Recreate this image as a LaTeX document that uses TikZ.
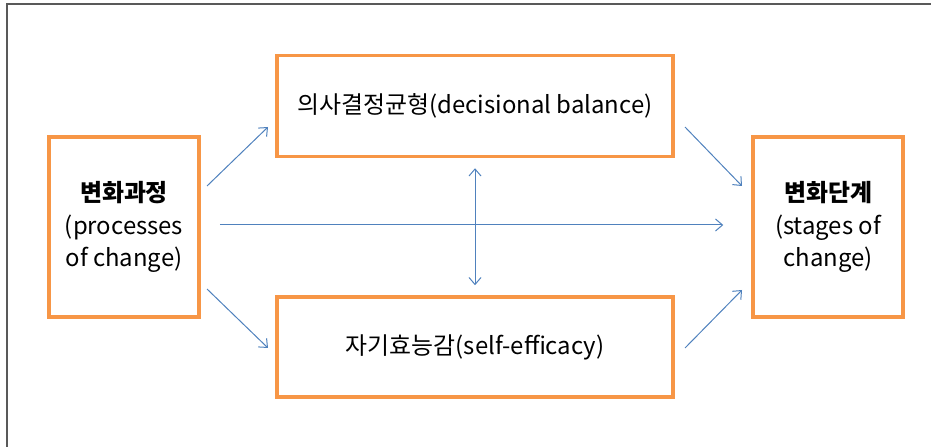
\documentclass[tikz,border=0pt]{standalone}
\usepackage{fontspec}
\setmainfont{Noto Sans CJK KR}
\usetikzlibrary{arrows.meta}
\definecolor{boxorange}{HTML}{F79646}
\definecolor{arrowblue}{HTML}{4F81BD}
\definecolor{framegray}{HTML}{595959}

\begin{document}
\begin{tikzpicture}[x=1bp,y=-1bp,
    box/.style={draw=boxorange, line width=3.5bp, align=center,
                font=\fontsize{24}{33}\selectfont},
    link/.style={draw=arrowblue, line width=1bp,
                 -{Straight Barb[length=7bp,width=12bp]}}]
    \useasboundingbox (0,0) rectangle (931,447);
    \draw[framegray, line width=2bp] (7,447) -- (7,4) -- (931,4);

    % boxes
    \node[box, minimum width=150bp, minimum height=180bp] (proc) at (124,227)
        {\textbf{변화과정}\\(processes\\of change)};
    \node[box, minimum width=396bp, minimum height=101bp] (bal) at (475,106)
        {의사결정균형(decisional balance)};
    \node[box, minimum width=396bp, minimum height=100bp] (eff) at (475,347)
        {자기효능감(self-efficacy)};
    \node[box, minimum width=150bp, minimum height=180bp] (stage) at (828,227)
        {\textbf{변화단계}\\(stages of\\change)};

    % arrow ends
    \coordinate (pb0) at (207,186);
    \coordinate (pb1) at (268,127);
    \coordinate (pe0) at (207,289);
    \coordinate (pe1) at (268,348);
    \coordinate (bs0) at (685,127);
    \coordinate (bs1) at (742,186);
    \coordinate (es0) at (685,348);
    \coordinate (es1) at (742,290);

    \draw[link] (pb0) -- (pb1);
    \draw[link] (pe0) -- (pe1);
    \draw[link] (bs0) -- (bs1);
    \draw[link] (es0) -- (es1);
    \draw[link, shorten <=19bp, shorten >=28bp] ([yshift=2bp]proc.east) -- ([yshift=2bp]stage.west);
    \draw[link, {Straight Barb[length=7bp,width=12bp]}-{Straight Barb[length=7bp,width=12bp]},
          shorten <=10bp, shorten >=10bp] (bal.south) -- (eff.north);
\end{tikzpicture}
\end{document}
